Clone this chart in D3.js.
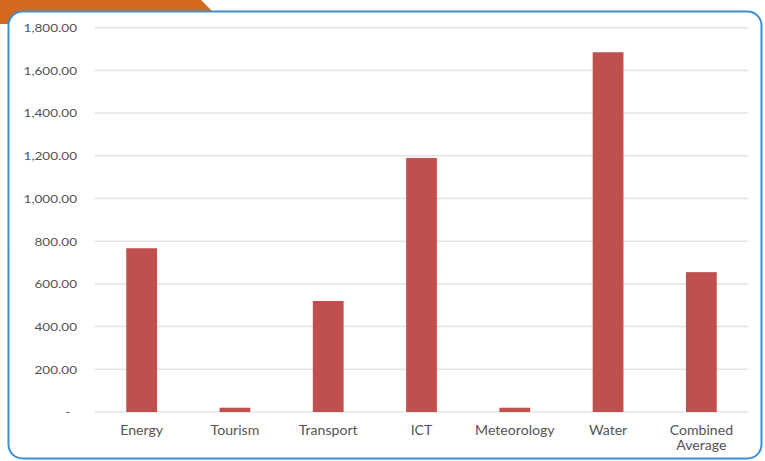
<!DOCTYPE html>
<html>
<head>
<meta charset="utf-8">
<script src="https://cdn.jsdelivr.net/npm/d3@7"></script>
<style>
  html, body { margin: 0; padding: 0; background: #ffffff; }
  svg { display: block; }
  text { font-family: Lato, "Open Sans", sans-serif; fill: #545454; }
</style>
</head>
<body>
<svg id="chart" width="765" height="461"></svg>
<script>
// Sector values
const categories = ["Energy", "Tourism", "Transport", "ICT", "Meteorology", "Water", "Combined Average"];
const values = [767, 20, 520, 1190, 20, 1685, 655];
const yTicks = [0, 200, 400, 600, 800, 1000, 1200, 1400, 1600, 1800];

const svg = d3.select("#chart");
const plot = { left: 95, right: 748, top: 27.7, bottom: 412 };
const stretch = 1.13; // wide lettering

// Orange header tab behind the frame
svg.append("path")
  .attr("d", "M0,0 L201,0 L214,13 L214,24 L0,24 Z")
  .attr("fill", "#d4691d");

// Rounded frame
svg.append("rect")
  .attr("x", 8.5).attr("y", 11.5)
  .attr("width", 753).attr("height", 447)
  .attr("rx", 14).attr("ry", 14)
  .attr("fill", "#ffffff")
  .attr("stroke", "#3d8fd1")
  .attr("stroke-width", 2);

const x = d3.scaleBand()
  .domain(categories)
  .range([plot.left, plot.right])
  .paddingInner(0.67)
  .paddingOuter(0.335);

const y = d3.scaleLinear()
  .domain([0, 1800])
  .range([plot.bottom, plot.top]);

// Gridlines
svg.append("g")
  .selectAll("line")
  .data(yTicks)
  .join("line")
  .attr("x1", plot.left).attr("x2", plot.right)
  .attr("y1", d => y(d)).attr("y2", d => y(d))
  .attr("stroke", "#e3e3e3")
  .attr("stroke-width", 1.5);

// Y axis labels
const fmt = d3.format(",.2f");
const yAxis = d3.axisLeft(y)
  .tickValues(yTicks)
  .tickSize(0)
  .tickPadding(0)
  .tickFormat(d => d === 0 ? "-" : fmt(d));
const yg = svg.append("g")
  .attr("transform", `translate(77,0)`)
  .call(yAxis);
yg.select(".domain").remove();
yg.selectAll("text")
  .attr("font-size", 12)
  .attr("fill", "#545454")
  .attr("font-family", "Lato, sans-serif")
  .attr("dx", d => d === 0 ? -6 : 0)
  .attr("transform", `scale(${stretch},1)`)
  .attr("x", 0);

// Bars
svg.append("g")
  .selectAll("rect")
  .data(categories.map((c, i) => ({ c, v: values[i] })))
  .join("rect")
  .attr("x", d => x(d.c))
  .attr("y", d => y(d.v))
  .attr("width", x.bandwidth())
  .attr("height", d => y(0) - y(d.v))
  .attr("fill", "#c0504d");

// X axis labels (wrapped on spaces for two-word names)
const xg = svg.append("g");
categories.forEach(c => {
  const words = c.split(" ");
  const cx = x(c) + x.bandwidth() / 2;
  const t = xg.append("text")
    .attr("transform", `translate(${cx},435) scale(${stretch},1)`)
    .attr("text-anchor", "middle")
    .attr("font-size", 12.5);
  words.forEach((w, i) => {
    t.append("tspan")
      .attr("x", 0)
      .attr("dy", i === 0 ? 0 : 15.5)
      .text(w);
  });
});
</script>
</body>
</html>
